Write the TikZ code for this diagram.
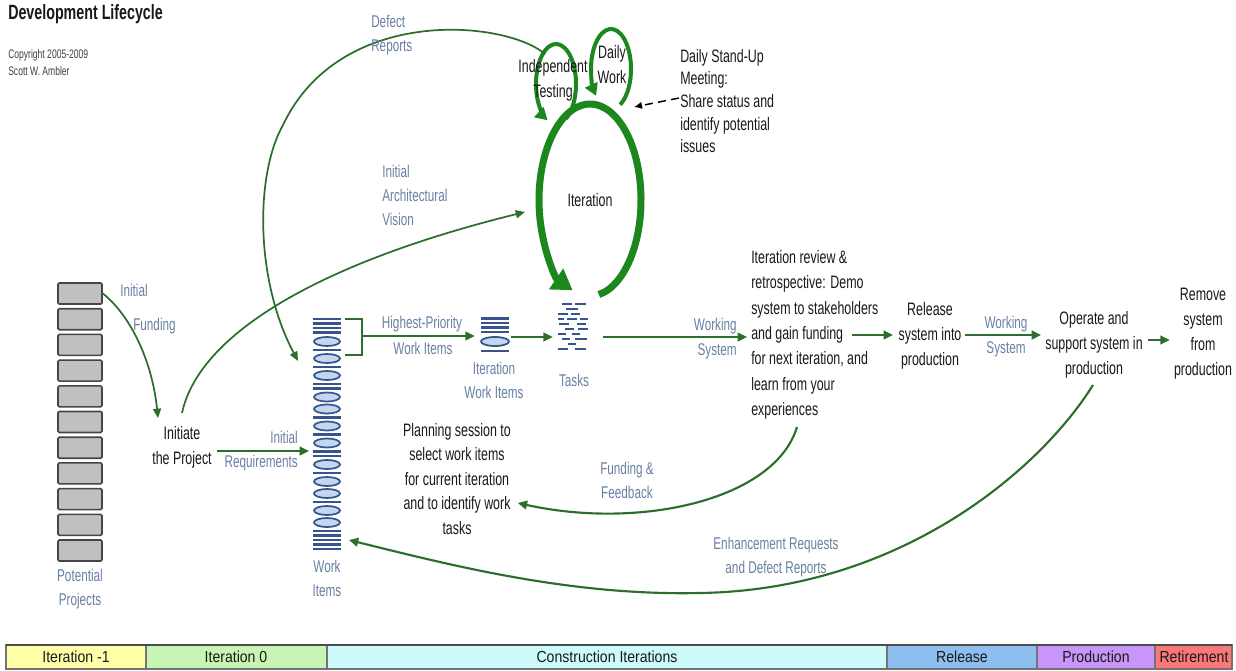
\documentclass[tikz,border=0pt]{standalone}
\usepackage{fontspec}
\setmainfont{Liberation Sans}[FakeStretch=0.69]
\newfontfamily\barfont{Liberation Sans}[FakeStretch=0.88]
\usetikzlibrary{arrows.meta,calc}
\definecolor{agreen}{RGB}{45,110,45}
\definecolor{lgreen}{RGB}{28,135,28}
\definecolor{lblue}{RGB}{105,128,165}
\definecolor{ink}{RGB}{25,25,25}
\definecolor{wbar}{RGB}{55,85,140}
\definecolor{wfill}{RGB}{195,215,240}
\definecolor{pgray}{RGB}{192,192,192}
\definecolor{pedge}{RGB}{70,70,70}
\definecolor{phA}{RGB}{255,255,170}
\definecolor{phB}{RGB}{200,245,180}
\definecolor{phC}{RGB}{205,250,250}
\definecolor{phD}{RGB}{140,190,240}
\definecolor{phE}{RGB}{200,150,250}
\definecolor{phF}{RGB}{250,120,120}
\begin{document}
\begin{tikzpicture}[x=0.75pt,y=-0.75pt,
  txt/.style={text=ink,align=center,inner sep=0pt,font=\fontsize{13.5}{18.75}\selectfont},
  txtl/.style={txt,align=left},
  lbl/.style={text=lblue,align=center,inner sep=0pt,font=\fontsize{12.75}{18}\selectfont},
  lbll/.style={lbl,align=left},
  lblr/.style={lbl,align=right},
  thin arrow/.style={draw=agreen,line width=1.3pt,-{Triangle[length=7pt,width=6pt]}},
  flow arrow/.style={draw=agreen,line width=1.6pt,-{Triangle[length=7pt,width=6.5pt]}},
  smallloop/.style={draw=lgreen,line width=3pt,-{Triangle[length=9pt,width=10pt]}},
  bigloop/.style={draw=lgreen,line width=5.25pt,-{Triangle[length=15pt,width=18pt]}},
  proj/.style={draw=pedge,fill=pgray,line width=1.2pt,rounded corners=1pt,minimum width=33pt,minimum height=15.75pt,inner sep=0pt},
  wbarst/.style={draw=wbar,line width=1.9pt},
  wellst/.style={draw=wbar,fill=wfill,line width=1.3pt},
  phase/.style={draw=black!55,line width=0.8pt},
  phtxt/.style={text=ink,inner sep=0pt,font=\barfont\fontsize{12}{14}\selectfont},
]
\useasboundingbox (0,0) rectangle (1236,671);
\fill[white] (0,0) rectangle (1236,671);

% title
\node[anchor=west,inner sep=0pt,text=ink,font=\bfseries\fontsize{15.5}{18}\selectfont] (title) at (8,14) {Development Lifecycle};
\node[anchor=north west,align=left,inner sep=0pt,text=black!75,font=\fontsize{9.3}{12.75}\selectfont] (copy) at (8,49) {Copyright 2005-2009\\Scott W. Ambler};

% potential projects
\foreach \i in {0,...,10} \node[proj] (pp\i) at (80,{293.5+25.7*\i}) {};
\node[lbl] (pplbl) at (80,589) {Potential\\Projects};

% initiate
\node[txt] (init) at (182,447) {Initiate\\the Project};
\coordinate (fundEnd) at (158,418);
\draw[thin arrow] (pp0.east) .. controls (130,315) and (152,360) .. (fundEnd);
\node[lbll,anchor=west] (lfund1) at (120,290) {Initial};
\node[lbll,anchor=west] (lfund2) at (133,326) {Funding};

% work items
\node[minimum width=22.5pt,minimum height=172.5pt,inner sep=0pt] (wi) at (327,433) {};
\foreach \y in {319,323.5,328,332.5,350,367,384,388.5,417.5,434.5,451.5,456,473,502,531,535.5,540,544.5,549}
  \draw[wbarst] (313,\y) -- (341,\y);
\foreach \y in {341.5,358.5,375.5,397,409,426,443,464.5,481.5,493.5,510.5,522.5}
  \draw[wellst] (327,\y) ellipse[x radius=13, y radius=4.5];
\node[lbl] (wilbl) at (327,578) {Work\\Items};

% initial requirements
\coordinate (irS) at (217,451);
\coordinate (irE) at (309,451);
\draw[flow arrow] (irS) -- (irE);
\node[lblr,anchor=east] (lir1) at (298,437) {Initial};
\node[lblr,anchor=east] (lir2) at (298,463) {Requirements};

% bracket + highest priority
\draw[agreen,line width=1.2pt] (345,319) -- (362,319) -- (362,355) -- (345,355);
\coordinate (hpS) at (362,336);
\node[minimum width=24pt,minimum height=27pt,inner sep=0pt] (iwi) at (495,335) {};
\draw[flow arrow] (hpS) -- ([xshift=-3pt]iwi.west |- hpS);
\node[lbl] (lhp1) at (422,324) {Highest-Priority};
\node[lbl] (lhp2) at (423,348) {Work Items};

% iteration work items icon
\foreach \y in {318.5,323,327.5,332,351} \draw[wbarst] (481,\y) -- (509,\y);
\draw[wellst] (495,341.5) ellipse[x radius=14, y radius=4.5];
\node[lbl] (iwilbl) at (494,380) {Iteration\\Work Items};

% tasks icon
\node[minimum width=24pt,minimum height=36pt,inner sep=0pt] (tasks) at (573,327) {};
\foreach \xa/\xb/\y in {562/572/304,575/586/304,566/578/309,558/568/314,571/580/314,558/564/319,567/577/319,580/588/319,559/569/324,577/586/324,565/574/329,578/588/329,558/566/334,572/580/334,562/570/339,575/587/339,568/576/344,558/568/349,575/586/349}
  \draw[wbarst,line width=2.2pt] (\xa,\y) -- (\xb,\y);
\node[lbl] (taskslbl) at (574,380) {Tasks};
\draw[flow arrow] (iwi.east |- 0,337) -- ([xshift=-3pt]tasks.west |- 0,337);

% iteration loop
\coordinate (itc) at (590,200);
\node[txt] (iter) at (itc) {Iteration};
\draw[bigloop] ([shift={(80:51 and 96)}]itc) arc[start angle=80, end angle=-250, x radius=51, y radius=96];

\coordinate (indc) at (556,84);
\draw[smallloop] ([shift={(60:20 and 40)}]indc) arc[start angle=60, end angle=-245, x radius=20, y radius=40];
\node[txt] (indlbl) at (553,80) {Independent\\Testing};

\coordinate (dwc) at (611,69);
\draw[smallloop] ([shift={(63:20 and 40)}]dwc) arc[start angle=63, end angle=-222, x radius=20, y radius=40];
\node[txt] (dwlbl) at (612,65) {Daily\\Work};

% stand-up
\node[txtl,anchor=west,font=\fontsize{13.5}{17}\selectfont] (standup) at (680,101) {Daily Stand-Up\\Meeting:\\Share status and\\identify potential\\issues};
\coordinate (suS) at (679,98);
\coordinate (suE) at (634,107);
\draw[black,line width=1.1pt,dash pattern=on 6pt off 4pt,-{Latex[length=6pt,width=5.5pt]}] (suS) -- (suE);

% defect reports
\coordinate (drS) at (545,54);
\coordinate (drE) at (298,361);
\draw[thin arrow] (drS) .. controls (505,20) and (340,5) .. (283,125) .. controls (255,175) and (255,280) .. (drE);
\node[lbll,anchor=west] (ldr) at (371,35) {Defect\\Reports};

% initial architectural vision
\coordinate (iavS) at (182,413);
\coordinate (iavE) at (525,212);
\draw[thin arrow] (iavS) .. controls (200,330) and (330,260) .. (iavE);
\node[lbll,anchor=west] (liav) at (382,195) {Initial\\Architectural\\Vision};

% review
\node[txtl,anchor=west,font=\fontsize{13.5}{19}\selectfont] (review) at (751,335) {Iteration review \&\\retrospective: Demo\\system to stakeholders\\and gain funding\\for next iteration, and\\learn from your\\experiences};
\coordinate (wsS) at (603,337);
\draw[flow arrow] (wsS) -- ([xshift=-3pt]review.west |- wsS);
\node[lblr,anchor=east] (lws1) at (737,326) {Working};
\node[lblr,anchor=east] (lws2) at (737,351) {System};

% release etc
\node[txt] (release) at (930,336) {Release\\system into\\production};
\coordinate (rvS) at (852,335);
\draw[flow arrow] (rvS) -- ([xshift=-4pt]release.west |- rvS);
\node[txt] (operate) at (1094,345) {Operate and\\support system in\\production};
\coordinate (reS) at (965,335);
\draw[flow arrow] (reS) -- ([xshift=-3pt]operate.west |- reS);
\node[lbl] (lws3) at (1006,324) {Working};
\node[lbl] (lws4) at (1006,349) {System};
\node[txt] (remove) at (1203,334) {Remove\\system\\from\\production};
\coordinate (opS) at (1148,340);
\draw[flow arrow] (opS) -- ([xshift=-3pt]remove.west |- opS);

% planning
\node[txt,font=\fontsize{13.5}{18.4}\selectfont] (plan) at (457,479) {Planning session to\\select work items\\for current iteration\\and to identify work\\tasks};
\coordinate (ffS) at (797,427);
\draw[flow arrow] (ffS) .. controls (775,500) and (640,530) .. ([xshift=5pt]plan.east |- 0,503);
\node[lbl] (lff) at (627,480) {Funding \&\\Feedback};

% enhancement
\coordinate (enS) at (1093,385);
\coordinate (enM) at (700,593);
\draw[flow arrow] (enS) .. controls (1040,470) and (900,590) .. (enM) .. controls (570,596) and (450,565) .. ([xshift=5pt]wi.east |- 0,540);
\node[lbl] (len) at (776,557) {Enhancement Requests\\and Defect Reports};

% phase bar
\draw[phase,fill=phA] (6,645) rectangle (146,669);
\draw[phase,fill=phB] (146,645) rectangle (327,669);
\draw[phase,fill=phC] (327,645) rectangle (887,669);
\draw[phase,fill=phD] (887,645) rectangle (1037,669);
\draw[phase,fill=phE] (1037,645) rectangle (1155,669);
\draw[phase,fill=phF] (1155,645) rectangle (1232,669);
\draw[black!70,line width=1.3pt] (6,645) -- (1232,645);
\node[phtxt] (ph1) at (76,657) {Iteration -1};
\node[phtxt] (ph2) at (236,657) {Iteration 0};
\node[phtxt] (ph3) at (607,657) {Construction Iterations};
\node[phtxt] (ph4) at (962,657) {Release};
\node[phtxt] (ph5) at (1096,657) {Production};
\node[phtxt] (ph6) at (1194,657) {Retirement};
\end{tikzpicture}
\end{document}
